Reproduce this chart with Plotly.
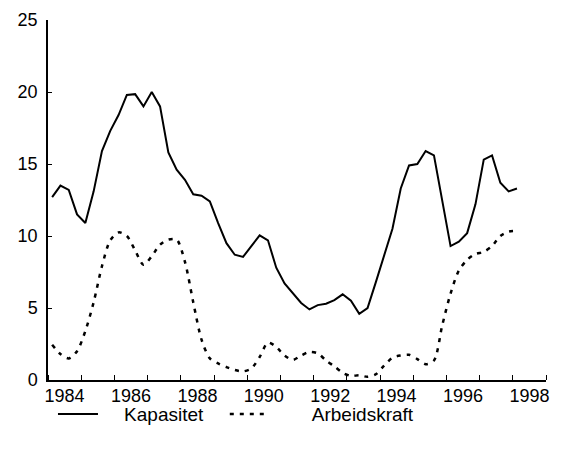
import plotly.graph_objects as go

# Quarterly observations, 1984 Q1 - 1998 Q1 (per cent)
first_year = 1984
n_quarters = 57

kapasitet = [
    12.7, 13.5, 13.2, 11.5, 10.9, 13.1, 15.9, 17.3, 18.4, 19.8,
    19.85, 19.0, 20.0, 19.0, 15.8, 14.6, 13.9, 12.9, 12.8, 12.4,
    10.9, 9.5, 8.7, 8.55, 9.3, 10.05, 9.7, 7.8, 6.7, 6.0,
    5.35, 4.9, 5.2, 5.3, 5.55, 5.95, 5.5, 4.6, 5.0, 6.8,
    8.6, 10.5, 13.3, 14.9, 15.0, 15.9, 15.6, 12.4, 9.3, 9.6,
    10.2, 12.2, 15.3, 15.6, 13.7, 13.1, 13.3,
]

arbeidskraft = [
    2.45, 1.8, 1.5, 2.0, 3.4, 5.4, 7.9, 9.7, 10.25, 10.0,
    9.0, 8.0, 8.6, 9.4, 9.75, 9.75, 8.2, 5.4, 2.8, 1.5,
    1.15, 0.9, 0.7, 0.6, 0.8, 1.6, 2.6, 2.3, 1.7, 1.4,
    1.7, 1.95, 1.85, 1.35, 0.95, 0.5, 0.28, 0.33, 0.22, 0.4,
    1.0, 1.55, 1.7, 1.75, 1.45, 1.1, 1.35, 3.8, 6.0, 7.6,
    8.35, 8.75, 8.9, 9.3, 10.0, 10.3, 10.35,
]

year_labels = ["1984", "1986", "1988", "1990", "1992", "1994", "1996", "1998"]
y_ticks = [0, 5, 10, 15, 20, 25]

# time axis: each quarter plotted at its midpoint
t = [first_year + (q + 0.5) / 4 for q in range(n_quarters)]
label_pos = [int(y) + 0.5 for y in year_labels]

FONT = "Liberation Sans, Arial, sans-serif"
NB = "\u00a0"  # gap between legend line and its text

fig = go.Figure()

fig.add_trace(go.Scatter(
    x=t, y=kapasitet, name=NB * 4 + "Kapasitet", mode="lines",
    line=dict(color="black", width=2), legend="legend",
))
fig.add_trace(go.Scatter(
    x=t, y=arbeidskraft, name=NB * 7 + "Arbeidskraft", mode="lines",
    line=dict(color="black", width=2.5, dash="4px,6px", shape="spline", smoothing=0.8),
    legend="legend2",
))

leg = dict(orientation="h", xanchor="left", y=-0.095, yanchor="middle",
           font=dict(size=19), itemwidth=40, bgcolor="rgba(0,0,0,0)")

# page body has an 8px margin, so the margins are shifted to compensate
fig.update_layout(
    width=568, height=452,
    margin=dict(l=40, r=30, t=12, b=80, autoexpand=False),
    paper_bgcolor="white", plot_bgcolor="white",
    font=dict(family=FONT, size=18, color="black"),
    showlegend=True,
    legend=dict(leg, x=0.010),
    legend2=dict(leg, x=0.355),
)

fig.update_xaxes(
    range=[1984, 1999], showgrid=False, zeroline=False, automargin=False,
    showline=True, linecolor="black", linewidth=1.5,
    tickmode="array", tickvals=label_pos, ticktext=year_labels, ticks="",
    minor=dict(tickmode="linear", tick0=1984, dtick=1, ticks="inside",
               ticklen=5, tickcolor="black", tickwidth=1.2, showgrid=False),
    tickfont=dict(size=18), ticklabelstandoff=-1,
)
fig.update_yaxes(
    range=[0, 25], showgrid=False, zeroline=False, automargin=False,
    showline=True, linecolor="black", linewidth=1.5,
    tickvals=y_ticks, ticks="inside", ticklen=4, tickcolor="black", tickwidth=1.2,
    ticklabelstandoff=5, tickfont=dict(size=18),
)

fig.write_html("out.html")
